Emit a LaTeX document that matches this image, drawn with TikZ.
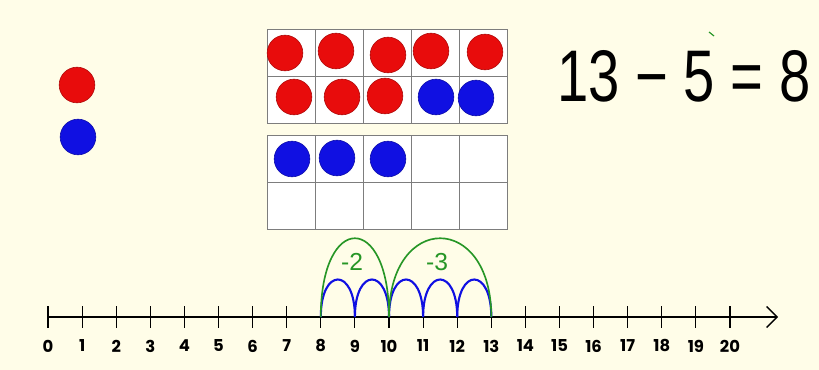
\documentclass[tikz,border=0pt]{standalone}
\usepackage{fontspec}
\usepackage{graphicx}
\setmainfont{Liberation Sans}
\newfontfamily\numfont{Poppins}
\usetikzlibrary{arrows.meta,positioning}
\definecolor{cream}{RGB}{255,253,232}
\definecolor{chipred}{RGB}{232,12,12}
\definecolor{chipblue}{RGB}{16,16,226}
\definecolor{jumpgreen}{RGB}{38,150,38}
\definecolor{framegray}{RGB}{125,125,125}

\tikzset{
  chip/.style={circle, draw=#1!75!black, fill=#1, minimum size=1.07cm, inner sep=0pt, line width=0.5pt},
  cell/.style={draw=framegray, fill=white, line width=0.6pt},
  numlabel/.style={font=\numfont\bfseries\fontsize{14}{14}\selectfont, inner sep=0pt},
  hop/.style={draw=chipblue, line width=1.8pt},
  bigjump/.style={draw=jumpgreen, line width=1.4pt},
  jumplabel/.style={text=jumpgreen, font=\fontsize{21}{21}\selectfont, inner sep=0pt}
}

\begin{document}
\begin{tikzpicture}[x=0.03cm, y=-0.03cm]
    % 1 unit = 1 px of the 819x370 reference, y downwards
    \fill[cream] (0,0) rectangle (819,370);

    % key counters
    \node[chip=chipred] (keyred) at (77,85) {};
    \node[chip=chipblue] (keyblue) at (78,137) {};

    % two ten frames
    \foreach \c in {0,...,4} {
      \foreach \r in {0,1} {
        \draw[cell] (267+48*\c, 29+47*\r) rectangle ++(48,47);
        \draw[cell] (267+48*\c, 135+47*\r) rectangle ++(48,47);
      }
    }
    \foreach \x/\y [count=\i] in {285/53, 336/51, 388/55, 431/51, 485/52, 294/97, 342/97, 385/96}
      \node[chip=chipred] (red\i) at (\x,\y) {};
    \foreach \x/\y [count=\i] in {436/97, 476/98, 292/159, 337/158, 388/159}
      \node[chip=chipblue] (blue\i) at (\x,\y) {};

    % number sentence
    \node (sentence) at (684,76) {\scalebox{1}[1.3]{\fontsize{48}{48}\selectfont 13 − 5 = 8}};
    \draw[jumpgreen, line width=1pt] (709,32) -- (714,36);

    % number line 0..20
    \foreach \n in {0,...,20} {
      \coordinate (t\n) at (48+34.1*\n, 317);
      \draw[line width=1pt] (48+34.1*\n, 306) -- (48+34.1*\n, 328);
      \node[numlabel] (l\n) at (48+34.1*\n, 346) {\n};
    }
    \coordinate (lineend) at (778,317);
    \draw[line width=1.1pt, -{Straight Barb[length=9pt, width=18pt, line width=1.1pt]}] (t0) -- (lineend);

    % counting back in ones
    \foreach \a/\b in {13/12, 12/11, 11/10, 10/9, 9/8}
      \draw[hop] (t\a) .. controls +(0,-50) and +(0,-50) .. (t\b);

    % jumps of 3 and 2
    \draw[bigjump] (t13) .. controls +(0,-105) and +(0,-105) .. (t10);
    \draw[bigjump] (t10) .. controls +(0,-105) and +(0,-105) .. (t8);
    \node[jumplabel] (minustwo) at (352,262) {-2};
    \node[jumplabel] (minusthree) at (437,262) {-3};
\end{tikzpicture}
\end{document}
